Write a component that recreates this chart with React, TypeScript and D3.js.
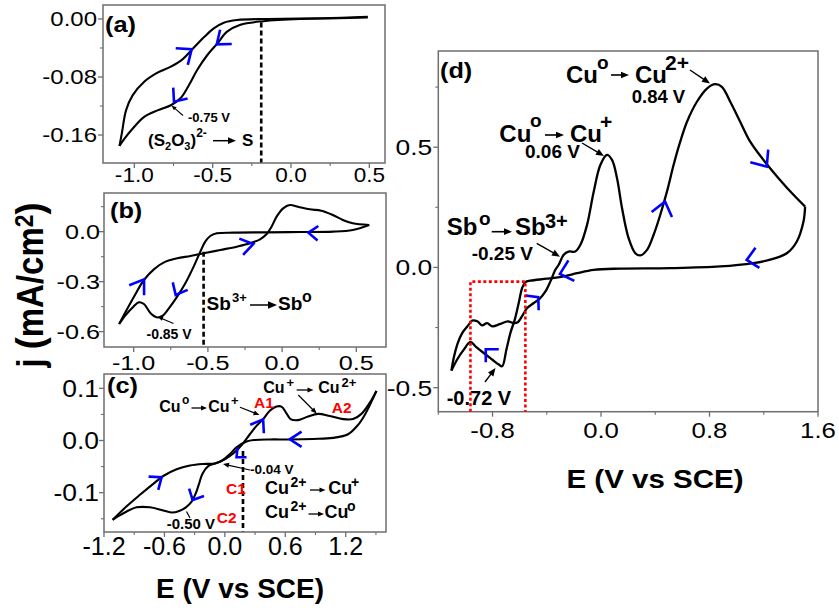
import React from 'react';
import * as d3 from 'd3';

type Pt = [number, number];

// ---------- (a) thiosulfate bath ----------
const aCathodic: Pt[] = [
  [0.49, 0.002], [0.3, 0.001], [0.057, 0.0], [-0.175, -0.003], [-0.323, -0.008], [-0.408, -0.0175],
  [-0.471, -0.034], [-0.535, -0.05], [-0.598, -0.07], [-0.651, -0.091], [-0.704, -0.109], [-0.767, -0.119],
  [-0.852, -0.126], [-0.937, -0.135], [-1.01, -0.151], [-1.063, -0.165], [-1.095, -0.175],
];
const aAnodic: Pt[] = [
  [-1.095, -0.175], [-1.08, -0.158], [-1.053, -0.126], [-1.01, -0.105], [-0.937, -0.0865], [-0.852, -0.074],
  [-0.767, -0.0657], [-0.693, -0.0556], [-0.63, -0.0418], [-0.556, -0.0253], [-0.493, -0.0129], [-0.429, -0.0051],
  [-0.344, -0.0014], [-0.154, 0.0], [0.2, 0.001], [0.49, 0.003],
];
const aXTicks = [-1.0, -0.5, 0.0, 0.5];
const aXMinor = [-0.75, -0.25, 0.25];
const aYTicks = [0.0, -0.08, -0.16];
const aYMinor = [-0.04, -0.12];
const aScanTips: Pt[] = [[-0.634, -0.0418], [-0.474, -0.0349], [-0.747, -0.114]];
const aMarkerE = -0.19;

// ---------- (b) antimony bath ----------
const bCathodic: Pt[] = [
  [0.587, 0.04], [0.476, 0.01], [0.342, 0.0], [0.119, -0.002], [-0.104, -0.004], [-0.328, -0.006],
  [-0.44, -0.01], [-0.484, -0.026], [-0.518, -0.06], [-0.551, -0.12], [-0.596, -0.21], [-0.652, -0.31],
  [-0.707, -0.39], [-0.763, -0.46], [-0.808, -0.506], [-0.846, -0.514], [-0.886, -0.49], [-0.931, -0.434],
  [-0.965, -0.424], [-1.002, -0.45], [-1.054, -0.5], [-1.098, -0.554],
];
const bAnodic: Pt[] = [
  [-1.098, -0.554], [-1.054, -0.48], [-0.998, -0.39], [-0.931, -0.29], [-0.864, -0.226], [-0.786, -0.18],
  [-0.707, -0.16], [-0.618, -0.146], [-0.529, -0.13], [-0.417, -0.11], [-0.305, -0.09], [-0.216, -0.07],
  [-0.149, -0.046], [-0.104, -0.014], [-0.071, 0.03], [-0.037, 0.09], [0.007, 0.14], [0.052, 0.16],
  [0.107, 0.15], [0.186, 0.134], [0.264, 0.126], [0.342, 0.1], [0.409, 0.07], [0.476, 0.05], [0.587, 0.04],
];
const bXTicks = [-1.0, -0.5, 0.0, 0.5];
const bXMinor = [-0.75, -0.25, 0.25];
const bYTicks = [0.0, -0.3, -0.6];
const bYMinor = [0.15, -0.15, -0.45];
const bScanTips: Pt[] = [[0.177, -0.006], [-0.93, -0.286], [-0.194, -0.074], [-0.717, -0.38]];
const bMarkerE = -0.529;

// ---------- (c) copper bath ----------
const cAnodic: Pt[] = [
  [-1.114, -0.152], [-0.975, -0.126], [-0.843, -0.104], [-0.711, -0.083], [-0.612, -0.068], [-0.479, -0.055],
  [-0.347, -0.048], [-0.215, -0.045], [-0.099, -0.044], [0.0, -0.036], [0.083, -0.025], [0.165, -0.009],
  [0.248, 0.012], [0.314, 0.028], [0.38, 0.041], [0.446, 0.057], [0.513, 0.065], [0.562, 0.065],
  [0.612, 0.052], [0.652, 0.041], [0.727, 0.039], [0.826, 0.046], [0.926, 0.051], [1.042, 0.047],
  [1.174, 0.041], [1.273, 0.041], [1.356, 0.051], [1.438, 0.072], [1.505, 0.095],
];
const cCathodic: Pt[] = [
  [1.505, 0.095], [1.455, 0.074], [1.389, 0.049], [1.323, 0.03], [1.223, 0.012], [1.074, 0.005],
  [0.876, 0.003], [0.645, 0.002], [0.446, 0.002], [0.298, 0.001], [0.215, -0.002], [0.116, -0.013],
  [0.05, -0.026], [-0.033, -0.039], [-0.099, -0.044], [-0.165, -0.049], [-0.221, -0.063], [-0.255, -0.082],
  [-0.288, -0.101], [-0.33, -0.117], [-0.387, -0.128], [-0.453, -0.135], [-0.529, -0.138], [-0.628, -0.133],
  [-0.744, -0.128], [-0.876, -0.128], [-0.975, -0.136], [-1.058, -0.145], [-1.114, -0.152],
];
const cXTicks = [-1.2, -0.6, 0.0, 0.6, 1.2];
const cXMinor = [-0.9, -0.3, 0.3, 0.9, 1.5];
const cYTicks = [0.1, 0.0, -0.1];
const cYMinor = [0.05, -0.05, -0.15];
const cScanTips: Pt[] = [[-0.628, -0.0705], [-0.32, -0.114], [0.116, -0.032], [0.38, 0.0406], [0.645, 0.0023]];
const cMarkerE = 0.18;

// ---------- (d) Cu–Sb deposit stripping ----------
const dAnodic: Pt[] = [
  [-1.103, -0.429], [-1.086, -0.376], [-1.056, -0.314], [-1.024, -0.273], [-0.975, -0.238], [-0.95, -0.221],
  [-0.913, -0.224], [-0.877, -0.241], [-0.84, -0.232], [-0.803, -0.245], [-0.742, -0.235], [-0.688, -0.224],
  [-0.644, -0.232], [-0.614, -0.228], [-0.582, -0.203], [-0.545, -0.169], [-0.496, -0.148], [-0.452, -0.13],
  [-0.41, -0.1], [-0.373, -0.058], [-0.337, -0.01], [-0.312, 0.011], [-0.275, 0.053], [-0.239, 0.066],
  [-0.19, 0.066], [-0.152, 0.094], [-0.103, 0.177], [-0.054, 0.315], [-0.005, 0.426], [0.044, 0.468],
  [0.081, 0.447], [0.118, 0.371], [0.155, 0.246], [0.203, 0.122], [0.253, 0.059], [0.29, 0.05],
  [0.339, 0.073], [0.388, 0.136], [0.437, 0.219], [0.486, 0.315], [0.535, 0.426], [0.584, 0.523],
  [0.634, 0.606], [0.707, 0.689], [0.781, 0.744], [0.842, 0.762], [0.891, 0.751], [0.953, 0.689],
  [1.026, 0.606], [1.1, 0.523], [1.198, 0.447], [1.32, 0.364], [1.419, 0.302], [1.505, 0.253],
];
const dCathodic: Pt[] = [
  [1.505, 0.253], [1.493, 0.191], [1.444, 0.108], [1.37, 0.059], [1.247, 0.032], [1.124, 0.018],
  [0.878, 0.004], [0.51, -0.003], [0.142, -0.005], [-0.054, -0.01], [-0.177, -0.024], [-0.275, -0.037],
  [-0.398, -0.047], [-0.521, -0.055], [-0.558, -0.061], [-0.582, -0.086], [-0.607, -0.148], [-0.636, -0.217],
  [-0.668, -0.272], [-0.698, -0.342], [-0.729, -0.411], [-0.754, -0.404], [-0.803, -0.383], [-0.865, -0.356],
  [-0.926, -0.328], [-0.963, -0.31], [-1.012, -0.342], [-1.061, -0.383], [-1.103, -0.429],
];
const dXTicks = [-0.8, 0.0, 0.8, 1.6];
const dXMinor = [-1.2, -0.4, 0.4, 1.2];
const dYTicks = [0.5, 0.0, -0.5];
const dYMinor = [0.75, 0.25, -0.25];
const dScanTips: Pt[] = [[0.472, 0.274], [1.222, 0.419], [1.074, 0.031], [-0.303, -0.027], [-0.463, -0.124], [-0.85, -0.34]];
const dZoomBoxE: [number, number] = [-0.963, -0.558];
const dZoomBoxTop = -0.059;

// ---------- drawing helpers ----------
const FONT = "'Liberation Sans', Arial, Helvetica, sans-serif";
const minusFix = (s: string) => s.replace('\u2212', '-');
const fmt1 = (v: number) => minusFix(d3.format('.1f')(v));
const fmt2 = (v: number) => minusFix(d3.format('.2f')(v));

type Scale = d3.ScaleLinear<number, number>;
type Chev = { dir: number; half: number; len: number };

function SText(p: {
  x: number; y: number; sx?: number; size: number; bold?: boolean;
  anchor?: 'start' | 'middle' | 'end'; fill?: string; children: React.ReactNode;
}) {
  return (
    <text
      transform={`translate(${p.x},${p.y}) scale(${p.sx ?? 1},1)`}
      fontSize={p.size}
      fontWeight={p.bold ? 'bold' : 'normal'}
      textAnchor={p.anchor ?? 'start'}
      fill={p.fill ?? '#000'}
      fontFamily={FONT}
    >
      {p.children}
    </text>
  );
}

function Arrow({ x1, y1, x2, y2, head = 6, w = 1.3 }: { x1: number; y1: number; x2: number; y2: number; head?: number; w?: number }) {
  const a = Math.atan2(y2 - y1, x2 - x1);
  const c = Math.cos(a), s = Math.sin(a);
  const bx = x2 - head * c, by = y2 - head * s;
  const hw = head * 0.42;
  const pts = `${x2},${y2} ${bx + hw * s},${by - hw * c} ${bx - hw * s},${by + hw * c}`;
  return (
    <g>
      <line x1={x1} y1={y1} x2={bx + c} y2={by + s} stroke="#000" strokeWidth={w} />
      <polygon points={pts} fill="#000" />
    </g>
  );
}

function Chevron({ x, y, dir, half, len }: { x: number; y: number } & Chev) {
  const r = Math.PI / 180;
  const a1 = (dir + 180 - half) * r, a2 = (dir + 180 + half) * r;
  const d = `M${x + len * Math.cos(a1)},${y + len * Math.sin(a1)}L${x},${y}L${x + len * Math.cos(a2)},${y + len * Math.sin(a2)}`;
  return <path d={d} fill="none" stroke="#0000ff" strokeWidth={2.6} strokeLinecap="butt" strokeLinejoin="miter" />;
}

type PanelProps = {
  box: { l: number; t: number; r: number; b: number };
  xDom: [number, number]; yDom: [number, number];
  xTicks: number[]; xMinor: number[]; yTicks: number[]; yMinor: number[];
  xFmt: (v: number) => string; yFmt: (v: number) => string;
  xFont: number; xSx: number; xBase: number;
  yFont: number; ySx: number; yGap: number;
  branches: Pt[][];
  tips: Pt[]; chev: Chev[];
  lineW?: number;
  under?: (x: Scale, y: Scale) => React.ReactNode;
  over?: (x: Scale, y: Scale) => React.ReactNode;
};

function Panel(p: PanelProps) {
  const { box } = p;
  const x = d3.scaleLinear().domain(p.xDom).range([box.l, box.r]);
  const y = d3.scaleLinear().domain(p.yDom).range([box.b, box.t]);
  const line = d3.line<Pt>().x((d) => x(d[0])).y((d) => y(d[1])).curve(d3.curveCatmullRom.alpha(0.5));
  const axisCol = '#6e6e6e';
  return (
    <g>
      {p.under && p.under(x, y)}
      {p.branches.map((br, i) => (
        <path key={i} d={line(br) ?? ''} fill="none" stroke="#000" strokeWidth={p.lineW ?? 2.1} strokeLinejoin="round" />
      ))}
      {p.tips.map((t, i) => (
        <Chevron key={i} x={x(t[0])} y={y(t[1])} {...p.chev[i]} />
      ))}
      <rect x={box.l} y={box.t} width={box.r - box.l} height={box.b - box.t} fill="none" stroke={axisCol} strokeWidth={1.5} />
      {p.xTicks.map((t) => (
        <line key={'xt' + t} x1={x(t)} x2={x(t)} y1={box.b} y2={box.b + 5} stroke={axisCol} strokeWidth={1.3} />
      ))}
      {p.xMinor.map((t) => (
        <line key={'xm' + t} x1={x(t)} x2={x(t)} y1={box.b} y2={box.b + 3} stroke={axisCol} strokeWidth={1.1} />
      ))}
      {p.yTicks.map((t) => (
        <line key={'yt' + t} x1={box.l - 5} x2={box.l} y1={y(t)} y2={y(t)} stroke={axisCol} strokeWidth={1.3} />
      ))}
      {p.yMinor.map((t) => (
        <line key={'ym' + t} x1={box.l - 3} x2={box.l} y1={y(t)} y2={y(t)} stroke={axisCol} strokeWidth={1.1} />
      ))}
      {p.xTicks.map((t) => (
        <SText key={'xl' + t} x={x(t)} y={box.b + p.xBase} sx={p.xSx} size={p.xFont} anchor="middle">
          {p.xFmt(t)}
        </SText>
      ))}
      {p.yTicks.map((t) => (
        <SText key={'yl' + t} x={box.l - p.yGap} y={y(t) + p.yFont * 0.36} sx={p.ySx} size={p.yFont} anchor="end">
          {p.yFmt(t)}
        </SText>
      ))}
      {p.over && p.over(x, y)}
    </g>
  );
}

const PL = 22; // panel letter size

export default function App() {
  return (
    <svg width={839} height={611} viewBox="0 0 839 611" style={{ position: 'absolute', left: 0, top: 0 }} fontFamily={FONT}>
      <rect width={839} height={611} fill="#fff" />

      {/* (a) */}
      <Panel
        box={{ l: 103, t: 5, r: 385, b: 163 }}
        xDom={[-1.2, 0.6]} yDom={[-0.1986, 0.0193]}
        xTicks={aXTicks} xMinor={aXMinor} yTicks={aYTicks} yMinor={aYMinor}
        xFmt={fmt1} yFmt={fmt2}
        xFont={20} xSx={1.13} xBase={19} yFont={20} ySx={1.2} yGap={6}
        branches={[aCathodic, aAnodic]}
        tips={aScanTips}
        chev={[{ dir: -36, half: 40, len: 16 }, { dir: 141, half: 38, len: 15 }, { dir: 127, half: 40, len: 14 }]}
        under={(x, y) => (
          <line x1={x(aMarkerE)} x2={x(aMarkerE)} y1={y(-0.005)} y2={163} stroke="#000" strokeWidth={2.6} strokeDasharray="5,3" />
        )}
        over={() => (
          <g>
            <SText x={105} y={32} size={PL} bold sx={1.15}>(a)</SText>
            <SText x={188} y={121.5} size={13} bold>-0.75 V</SText>
            <Arrow x1={183} y1={115.5} x2={171.5} y2={105.5} head={5} w={1.1} />
            <SText x={148} y={146} size={17} bold>
              (S<tspan fontSize={11} dy={4}>2</tspan><tspan dy={-4}>O</tspan><tspan fontSize={11} dy={4}>3</tspan><tspan dy={-4}>)</tspan><tspan fontSize={12} dy={-9}>2-</tspan>
            </SText>
            <Arrow x1={213} y1={140.7} x2={236} y2={140.7} head={8} w={1.5} />
            <SText x={242} y={146} size={17} bold>S</SText>
          </g>
        )}
      />

      {/* (b) */}
      <Panel
        box={{ l: 104, t: 193, r: 386, b: 347 }}
        xDom={[-1.2, 0.7]} yDom={[-0.692, 0.232]}
        xTicks={bXTicks} xMinor={bXMinor} yTicks={bYTicks} yMinor={bYMinor}
        xFmt={fmt1} yFmt={fmt1}
        xFont={21} xSx={1.2} xBase={23} yFont={21} ySx={1.2} yGap={4}
        branches={[bCathodic, bAnodic]}
        tips={bScanTips}
        chev={[
          { dir: 183, half: 37, len: 12 }, { dir: -56, half: 34, len: 16 },
          { dir: -13, half: 34, len: 15 }, { dir: 117, half: 40, len: 13 },
        ]}
        under={(x, y) => (
          <line x1={x(bMarkerE)} x2={x(bMarkerE)} y1={y(-0.12)} y2={347} stroke="#000" strokeWidth={2.6} strokeDasharray="5,3" />
        )}
        over={() => (
          <g>
            <SText x={110} y={217.7} size={PL} bold sx={1.15}>(b)</SText>
            <SText x={146.5} y={339} size={14} bold>-0.85 V</SText>
            <Arrow x1={173.5} y1={323.5} x2={158} y2={317} head={5} w={1.1} />
            <SText x={206.5} y={310} size={19} bold>Sb</SText>
            <SText x={232} y={301.7} size={13} bold>3+</SText>
            <Arrow x1={250} y1={305} x2={277} y2={305} head={9} w={1.5} />
            <SText x={278} y={310} size={19} bold>Sb</SText>
            <SText x={302} y={302} size={16} bold>o</SText>
          </g>
        )}
      />

      {/* (c) */}
      <Panel
        box={{ l: 104, t: 374, r: 386, b: 532 }}
        xDom={[-1.2, 1.6]} yDom={[-0.1753, 0.1274]}
        xTicks={cXTicks} xMinor={cXMinor} yTicks={cYTicks} yMinor={cYMinor}
        xFmt={fmt1} yFmt={fmt1}
        xFont={25} xSx={1.0} xBase={23} yFont={23} ySx={1.15} yGap={5}
        branches={[cAnodic, cCathodic]}
        tips={cScanTips}
        chev={[
          { dir: -36, half: 39, len: 13 }, { dir: 117, half: 44, len: 12 }, { dir: 138, half: 42, len: 10 },
          { dir: -58, half: 35, len: 14 }, { dir: 180, half: 33, len: 14 },
        ]}
        under={(x, y) => (
          <line x1={x(cMarkerE)} x2={x(cMarkerE)} y1={y(-0.02)} y2={532} stroke="#000" strokeWidth={2.6} strokeDasharray="5,3" />
        )}
        over={() => (
          <g>
            <SText x={107} y={393} size={PL} bold sx={1.15}>(c)</SText>
            <SText x={159.3} y={411.7} size={16} bold>Cu</SText>
            <SText x={182} y={404} size={12} bold>o</SText>
            <Arrow x1={191.5} y1={408} x2={207} y2={408} head={6} w={1.3} />
            <SText x={208.3} y={411.7} size={16} bold>Cu</SText>
            <SText x={231} y={404.5} size={13} bold>+</SText>
            <Arrow x1={240} y1={407.3} x2={259.5} y2={415} head={6} w={1.2} />
            <SText x={254} y={408} size={15.5} bold fill="#ff0000">A1</SText>
            <SText x={263.3} y={393.3} size={16} bold>Cu</SText>
            <SText x={286.5} y={387} size={13} bold>+</SText>
            <Arrow x1={296.7} y1={390} x2={313.5} y2={390} head={6} w={1.3} />
            <SText x={318.3} y={393.3} size={16} bold>Cu</SText>
            <SText x={341.5} y={387} size={13} bold>2+</SText>
            <Arrow x1={298.3} y1={395} x2={316.7} y2={413.5} head={6} w={1.2} />
            <SText x={331.7} y={412.7} size={15.5} bold fill="#ff0000">A2</SText>
            <SText x={250} y={474} size={13.5} bold>-0.04 V</SText>
            <Arrow x1={250} y1={470} x2={223} y2={464} head={6} w={1.2} />
            <SText x={226} y={494} size={15.5} bold fill="#ff0000">C1</SText>
            <SText x={265} y={494} size={18} bold>Cu</SText>
            <SText x={290.5} y={487} size={14} bold>2+</SText>
            <Arrow x1={310} y1={490} x2={325.5} y2={490} head={6} w={1.3} />
            <SText x={328.3} y={494} size={18} bold>Cu</SText>
            <SText x={351} y={487} size={14} bold>+</SText>
            <SText x={265} y={518.3} size={18} bold>Cu</SText>
            <SText x={290.5} y={511} size={14} bold>2+</SText>
            <Arrow x1={308.5} y1={514} x2={324} y2={514} head={6} w={1.3} />
            <SText x={324.5} y={518.3} size={18} bold>Cu</SText>
            <SText x={347} y={511} size={14} bold>o</SText>
            <SText x={216.7} y={523.3} size={15.5} bold fill="#ff0000">C2</SText>
            <SText x={166.7} y={529} size={15} bold>-0.50 V</SText>
            <line x1={186.5} y1={511.5} x2={190} y2={518} stroke="#000" strokeWidth={1.2} />
          </g>
        )}
      />

      {/* (d) */}
      <Panel
        box={{ l: 438.3, t: 51, r: 818, b: 411.7 }}
        xDom={[-1.2, 1.6]} yDom={[-0.6, 0.9]}
        xTicks={dXTicks} xMinor={dXMinor} yTicks={dYTicks} yMinor={dYMinor}
        xFmt={fmt1} yFmt={fmt1}
        xFont={22} xSx={1.17} xBase={26} yFont={22} ySx={1.2} yGap={6}
        branches={[dAnodic, dCathodic]}
        tips={dScanTips}
        lineW={2.3}
        chev={[
          { dir: -76, half: 38, len: 17 }, { dir: 55, half: 40, len: 17 }, { dir: 169, half: 43, len: 15 },
          { dir: 164, half: 42, len: 16 }, { dir: -42, half: 50, len: 13 }, { dir: -135, half: 45, len: 13 },
        ]}
        over={(x, y) => (
          <g>
            <SText x={440} y={78} size={PL} bold sx={1.15}>(d)</SText>
            <SText x={566} y={82.7} size={24} bold>Cu</SText>
            <SText x={597} y={68.5} size={19} bold>o</SText>
            <Arrow x1={611} y1={75} x2={629} y2={75} head={8} w={1.6} />
            <SText x={635} y={82.7} size={24} bold>Cu</SText>
            <SText x={665} y={70} size={21} bold>2+</SText>
            <SText x={631.7} y={102.5} size={18.5} bold>0.84 V</SText>
            <Arrow x1={690} y1={70} x2={710} y2={83.5} head={8} w={1.4} />
            <SText x={499.3} y={141.7} size={24} bold>Cu</SText>
            <SText x={530} y={127.3} size={19} bold>o</SText>
            <Arrow x1={545} y1={135} x2={564} y2={135} head={8} w={1.6} />
            <SText x={570} y={141.7} size={24} bold>Cu</SText>
            <SText x={600} y={128.5} size={21} bold>+</SText>
            <SText x={525} y={158.3} size={19} bold>0.06 V</SText>
            <Arrow x1={582} y1={143} x2={604} y2={156} head={8} w={1.4} />
            <SText x={446.7} y={235} size={24} bold>Sb</SText>
            <SText x={479} y={225} size={19} bold>o</SText>
            <Arrow x1={491.7} y1={231.7} x2={512} y2={231.7} head={8} w={1.6} />
            <SText x={515} y={235} size={24} bold>Sb</SText>
            <SText x={545} y={228.3} size={20} bold>3+</SText>
            <SText x={471.7} y={260} size={19} bold>-0.25 V</SText>
            <Arrow x1={536.7} y1={243.3} x2={560} y2={256.7} head={8} w={1.4} />
            <SText x={446.7} y={405} size={20} bold>-0.72 V</SText>
            <Arrow x1={485} y1={382} x2={495.5} y2={368} head={8} w={1.4} />
            <path
              d={`M${x(dZoomBoxE[0])},${411.7}L${x(dZoomBoxE[0])},${y(dZoomBoxTop)}L${x(dZoomBoxE[1])},${y(dZoomBoxTop)}L${x(dZoomBoxE[1])},${411.7}`}
              fill="none" stroke="#ff0000" strokeWidth={2.6} strokeDasharray="3,2.5"
            />
          </g>
        )}
      />

      {/* shared axis titles */}
      <text transform="translate(43,285) scale(1.1,1) rotate(-90)" textAnchor="middle" fontSize={33} fontWeight="bold" fontFamily={FONT}>
        j <tspan fontSize={36}>(</tspan>mA/cm<tspan fontSize={23} dy={-9}>2</tspan><tspan dy={9} fontSize={36}>)</tspan>
      </text>
      <SText x={240} y={598} size={28} bold anchor="middle">E (V vs SCE)</SText>
      <SText x={655} y={488} size={25} bold sx={1.18} anchor="middle">E (V vs SCE)</SText>
    </svg>
  );
}
